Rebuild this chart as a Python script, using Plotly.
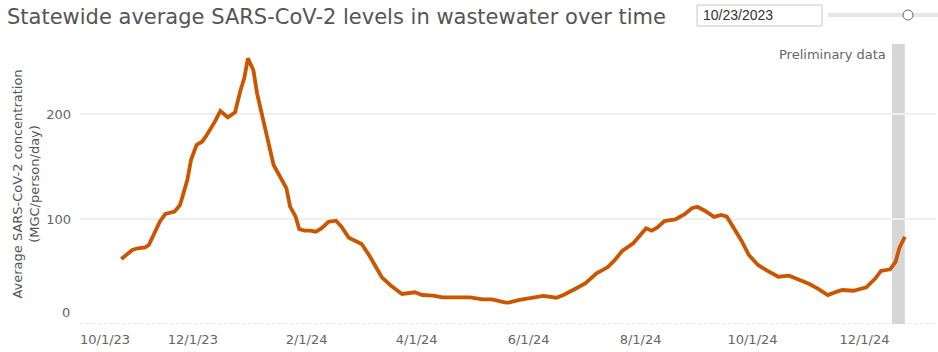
import plotly.graph_objects as go

# ---- data ----
dates = [
    "2023-10-23", "2023-10-29", "2023-11-01", "2023-11-05", "2023-11-07", "2023-11-10",
    "2023-11-13", "2023-11-16", "2023-11-19", "2023-11-21", "2023-11-24", "2023-11-28",
    "2023-11-30", "2023-12-03", "2023-12-06", "2023-12-08", "2023-12-13", "2023-12-16",
    "2023-12-20", "2023-12-24", "2023-12-27", "2023-12-29", "2023-12-31", "2024-01-03",
    "2024-01-05", "2024-01-08", "2024-01-11", "2024-01-14", "2024-01-18", "2024-01-21",
    "2024-01-23", "2024-01-26", "2024-01-28", "2024-01-31", "2024-02-03", "2024-02-06",
    "2024-02-09", "2024-02-13", "2024-02-17", "2024-02-20", "2024-02-24", "2024-02-28",
    "2024-03-02", "2024-03-06", "2024-03-10", "2024-03-13", "2024-03-18", "2024-03-24",
    "2024-03-31", "2024-04-04", "2024-04-10", "2024-04-15", "2024-04-23", "2024-04-30",
    "2024-05-07", "2024-05-12", "2024-05-19", "2024-05-21", "2024-05-27", "2024-06-02",
    "2024-06-09", "2024-06-16", "2024-06-20", "2024-06-27", "2024-07-02", "2024-07-08",
    "2024-07-14", "2024-07-18", "2024-07-22", "2024-07-28", "2024-08-01", "2024-08-04",
    "2024-08-07", "2024-08-10", "2024-08-14", "2024-08-20", "2024-08-25", "2024-08-29",
    "2024-09-01", "2024-09-05", "2024-09-10", "2024-09-14", "2024-09-17", "2024-09-21",
    "2024-09-25", "2024-09-29", "2024-10-04", "2024-10-09", "2024-10-15", "2024-10-21",
    "2024-10-27", "2024-11-01", "2024-11-06", "2024-11-11", "2024-11-16", "2024-11-19",
    "2024-11-25", "2024-12-02", "2024-12-07", "2024-12-10", "2024-12-15", "2024-12-18",
    "2024-12-20", "2024-12-23",
]
levels = [
    61.9, 70.5, 72.1, 73.0, 75.2, 86.4,
    97.4, 104.8, 106.4, 107.0, 113.3, 137.1,
    156.2, 170.5, 173.6, 178.4, 192.7, 202.9,
    196.9, 201.6, 222.9, 234.0, 253.0, 241.6,
    219.7, 195.9, 175.2, 151.4, 138.8, 129.2,
    111.7, 102.2, 90.2, 88.9, 88.9, 87.9,
    91.1, 97.4, 98.4, 92.7, 82.2, 79.3,
    76.2, 65.7, 53.0, 44.5, 36.5, 28.6,
    30.2, 27.6, 27.0, 25.4, 25.4, 25.4,
    23.5, 23.5, 20.6, 20.3, 22.9, 25.0,
    26.7, 25.0, 27.6, 34.0, 38.8, 48.3,
    54.0, 61.0, 69.5, 76.9, 85.4, 91.1,
    88.9, 91.7, 98.1, 99.7, 104.5, 110.2,
    111.7, 107.9, 102.0, 103.8, 102.2, 91.1,
    79.3, 65.7, 56.2, 50.8, 45.0, 46.0,
    41.9, 38.1, 33.3, 27.6, 30.8, 32.4,
    31.7, 35.0, 43.5, 50.5, 52.1, 59.3,
    72.1, 83.1,
]
prelim_start = "2024-12-16"
prelim_end = "2024-12-23"
x_tick_vals = ["2023-12-01", "2024-02-01", "2024-04-01", "2024-06-01",
               "2024-08-01", "2024-10-01", "2024-12-01"]
x_tick_text = ["12/1/23", "2/1/24", "4/1/24", "6/1/24", "8/1/24", "10/1/24", "12/1/24"]
first_x_tick = "2023-10-01"
first_x_label = "10/1/23"
y_tick_vals = [100, 200]
selected_date = "10/23/2023"

title = "Statewide average SARS-CoV-2 levels in wastewater over time"
y_title = "Average SARS-CoV-2 concentration<br>(MGC/person/day)"

# ---- layout geometry (pixels) ----
W, H = 938, 352
L, R, T, B = 80, 2, 44, 28
PW, PH = W - L - R, H - T - B


def px(x):
    return (x - L) / PW


def py(y):
    return (H - B - y) / PH


FONT = "DejaVu Sans"
LINE_COLOR = "#cc5500"

fig = go.Figure()
fig.add_trace(go.Scatter(
    x=dates, y=levels, mode="lines",
    line=dict(color=LINE_COLOR, width=3.8),
    hoverinfo="x+y", showlegend=False,
))

shapes = [
    # preliminary band
    dict(type="rect", xref="x", yref="paper", x0=prelim_start, x1=prelim_end,
         y0=0, y1=1, fillcolor="#d6d6d6", line=dict(width=0), layer="below"),
    # dotted baseline
    dict(type="line", xref="paper", yref="y", x0=0, x1=1, y0=0, y1=0,
         line=dict(color="#d0d0d0", width=1, dash="dot"), layer="below"),
    # date box
    dict(type="rect", xref="paper", yref="paper", x0=px(697), x1=px(822),
         y0=py(26), y1=py(5), fillcolor="white", line=dict(color="#c8c8c8", width=1)),
    # slider track
    dict(type="rect", xref="paper", yref="paper", x0=px(828), x1=px(938),
         y0=py(17), y1=py(13), fillcolor="#e6e6e6", line=dict(width=0)),
    # slider handle
    dict(type="circle", xref="paper", yref="paper", x0=px(903), x1=px(913),
         y0=py(20), y1=py(10), fillcolor="white", line=dict(color="#666666", width=1)),
]

annotations = [
    dict(text="Preliminary data", xref="paper", yref="paper", x=px(888), y=py(54),
         xanchor="right", yanchor="middle", showarrow=False,
         font=dict(family=FONT, size=13, color="#666666")),
    dict(text=selected_date, xref="paper", yref="paper", x=px(701), y=py(15.5),
         xanchor="left", yanchor="middle", showarrow=False,
         font=dict(family="Liberation Sans", size=14, color="#333333")),
    dict(text=first_x_label, xref="x", yref="paper", x=first_x_tick, y=0,
         xanchor="left", yanchor="middle", yshift=-15, xshift=-3, showarrow=False,
         font=dict(family=FONT, size=13, color="#666666")),
    dict(text="0", xref="paper", yref="y", x=0, y=0, xanchor="right", yanchor="middle",
         xshift=-8, yshift=12, showarrow=False,
         font=dict(family=FONT, size=13, color="#666666")),
]

fig.update_layout(
    width=W, height=H,
    margin=dict(l=L, r=R, t=T, b=B),
    paper_bgcolor="white", plot_bgcolor="white",
    title=dict(text=title, xref="container", yref="container",
               x=7 / W, xanchor="left", y=1 - 17 / H, yanchor="middle",
               font=dict(family=FONT, size=21, color="#555555")),
    shapes=shapes, annotations=annotations,
    xaxis=dict(
        type="date", range=["2023-09-30 12:00", "2025-01-09"],
        tickvals=x_tick_vals, ticktext=x_tick_text,
        showgrid=False, zeroline=False, showline=False, ticks="",
        ticklabelstandoff=6,
        tickfont=dict(family=FONT, size=13, color="#666666"),
        fixedrange=True,
    ),
    yaxis=dict(
        range=[0, PH / 1.05], tickvals=y_tick_vals,
        showgrid=True, gridcolor="#efefef", gridwidth=1.5,
        zeroline=False, showline=False, ticks="",
        ticklabelstandoff=8,
        tickfont=dict(family=FONT, size=13, color="#666666"),
        title=dict(text=y_title, standoff=3,
                   font=dict(family=FONT, size=13, color="#555555")),
        fixedrange=True,
    ),
    font=dict(family=FONT),
)

fig.write_html("out.html", config={"displayModeBar": False})
